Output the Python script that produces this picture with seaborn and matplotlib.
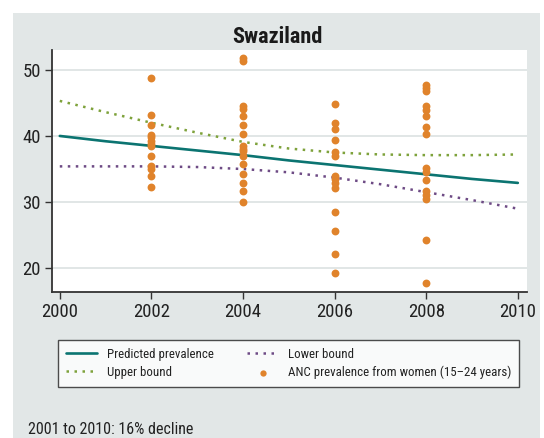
import pandas as pd
import seaborn as sns
import matplotlib.pyplot as plt
from matplotlib import font_manager
from matplotlib.patches import Rectangle

# Model curves, one value per year
years = [2000, 2001, 2002, 2003, 2004, 2005, 2006, 2007, 2008, 2009, 2010]
predicted = [40.0, 39.2, 38.5, 37.8, 37.1, 36.3, 35.6, 34.9, 34.2, 33.5, 32.9]
upper = [45.3, 43.6, 42.0, 40.5, 39.1, 38.1, 37.5, 37.2, 37.1, 37.1, 37.2]
lower = [35.4, 35.4, 35.4, 35.3, 35.0, 34.5, 33.7, 32.7, 31.5, 30.3, 29.0]

# ANC survey observations by survey year
anc_2002 = [48.8, 43.2, 41.6, 40.2, 39.8, 39.3, 38.8, 38.5, 36.9, 35.5, 35.0, 33.9, 32.3]
anc_2004 = [51.8, 51.4, 44.5, 44.1, 43.0, 41.7, 40.3, 38.5, 38.1, 37.7, 37.0, 35.8,
            34.2, 32.9, 31.7, 30.0]
anc_2006 = [44.9, 41.9, 41.1, 39.4, 37.5, 37.0, 33.9, 33.5, 32.9, 32.2, 28.5, 25.6,
            22.2, 19.2]
anc_2008 = [47.7, 47.2, 46.8, 44.5, 44.0, 43.0, 41.4, 40.3, 35.2, 34.5, 33.4, 31.7,
            31.1, 30.4, 24.2, 17.8]

xticks = [2000, 2002, 2004, 2006, 2008, 2010]
yticks = [20, 30, 40, 50]

curves = pd.DataFrame({'year': years, 'predicted': predicted,
                       'upper': upper, 'lower': lower})
anc = pd.DataFrame({
    'year': [2002] * len(anc_2002) + [2004] * len(anc_2004)
            + [2006] * len(anc_2006) + [2008] * len(anc_2008),
    'prevalence': anc_2002 + anc_2004 + anc_2006 + anc_2008,
})

sns.set_style('white')

# pick a narrow face if one is around, the original uses a condensed font
fonts = font_manager.fontManager.ttflist
names = {f.name for f in fonts}
stretch = 'normal'
font = 'Roboto'
if 'Liberation Sans Narrow' in names:
    font = 'Liberation Sans Narrow'
elif 'Roboto Condensed' in names:
    font = 'Roboto Condensed'
elif any(f.name == 'DejaVu Sans' and f.stretch == 'condensed' for f in fonts):
    font = 'DejaVu Sans'
    stretch = 'condensed'
plt.rcParams['font.family'] = [font, 'DejaVu Sans']
plt.rcParams['font.stretch'] = stretch

bg = '#e2e7e7'
fig = plt.figure(figsize=(5.44, 4.38), dpi=100)
fig.patches.append(Rectangle((13 / 544, 0), 527 / 544, 1 - 13 / 438,
                             transform=fig.transFigure, facecolor=bg,
                             edgecolor='none', zorder=-10))
ax = fig.add_axes([52 / 544, 1 - 292 / 438, 475 / 544, 242 / 438])
ax.set_facecolor('white')

sns.lineplot(data=curves, x='year', y='predicted', ax=ax, color='#0b7471',
             linewidth=1.9, label='Predicted prevalence')
sns.lineplot(data=curves, x='year', y='upper', ax=ax, color='#7ea23b',
             linewidth=1.8, linestyle=(0, (1, 2.2)), label='Upper bound')
sns.lineplot(data=curves, x='year', y='lower', ax=ax, color='#6e4b85',
             linewidth=1.8, linestyle=(0, (1, 2.2)), label='Lower bound')
sns.scatterplot(data=anc, x='year', y='prevalence', ax=ax, color='#e0832b',
                s=32, linewidth=0, zorder=5,
                label='ANC prevalence from women (15\u201324 years)')

ax.set_xlim(1999.83, 2010.2)
ax.set_ylim(16.4, 53.0)
ax.set_xticks(xticks)
ax.set_yticks(yticks)
ax.set_xlabel('')
ax.set_ylabel('')
ax.yaxis.grid(True, color='#dbe2e2', linewidth=1.2)
ax.set_axisbelow(True)
for side in ['top', 'right']:
    ax.spines[side].set_visible(False)
for side in ['left', 'bottom']:
    ax.spines[side].set_color('#333333')
    ax.spines[side].set_linewidth(1.3)
ax.tick_params(axis='both', which='major', direction='out', length=5,
               width=1, color='#333333', labelsize=13.5, labelcolor='#222222',
               pad=3, left=True, bottom=True)

# title is centred on the grey panel, not on the axes
fig.text(277 / 544, 1 - 43 / 438, 'Swaziland', fontsize=16, fontweight='bold',
         color='#1a1a1a', ha='center', va='baseline')

handles, labels = ax.get_legend_handles_labels()
ax.get_legend().remove()
leg = fig.legend(handles, labels, ncol=2, loc='upper left',
                 bbox_to_anchor=(58 / 544, 1 - 340 / 438),
                 fontsize=9.3, frameon=True, fancybox=False, handlelength=2.4,
                 borderpad=0.6, labelspacing=0.4, handletextpad=0.77,
                 columnspacing=2.6, markerscale=0.8, borderaxespad=0)
leg.get_frame().set_edgecolor('#222222')
leg.get_frame().set_linewidth(1.0)
leg.get_frame().set_facecolor('white')
for t in leg.get_texts():
    t.set_color('#222222')

fig.text(28 / 544, 1 - 430 / 438, '2001 to 2010: 16% decline', fontsize=11.5,
         color='#222222', va='center', ha='left')

fig.savefig('out.png', dpi=100, facecolor='white')
